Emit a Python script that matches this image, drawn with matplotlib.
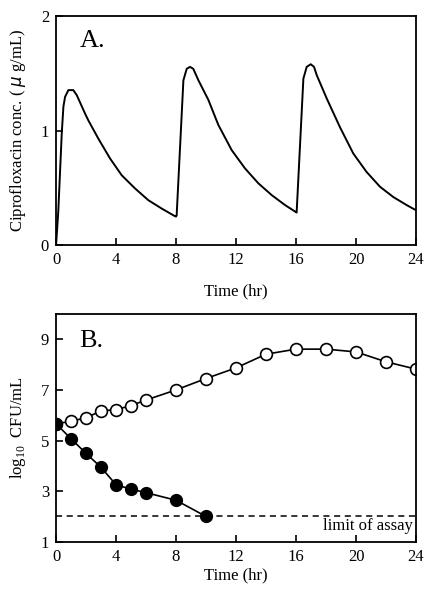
import matplotlib
matplotlib.use("Agg")
import matplotlib.pyplot as plt

plt.rcParams['font.family'] = ['Liberation Serif', 'DejaVu Serif']
plt.rcParams['mathtext.fontset'] = 'custom'
plt.rcParams['mathtext.rm'] = 'Liberation Serif'
plt.rcParams['font.size'] = 12

# panel A: ciprofloxacin concentration
conc_t = [0.0, 0.15, 0.27, 0.38, 0.49, 0.6, 0.82, 1.15, 1.38, 1.93, 2.15, 2.82, 3.6,
          4.38, 5.27, 6.15, 7.04, 7.93, 8.0,
          8.04, 8.49, 8.71, 8.93, 9.15, 9.49, 10.15, 10.82, 11.71, 12.6, 13.49, 14.38,
          15.27, 15.98,
          16.04, 16.49, 16.71, 16.98, 17.2, 17.38, 18.05, 18.93, 19.82, 20.7, 21.6,
          22.49, 23.38, 24.0]
conc = [0.0, 0.3, 0.655, 0.98, 1.21, 1.295, 1.354, 1.354, 1.31, 1.15, 1.09, 0.93, 0.757,
        0.61, 0.495, 0.393, 0.32, 0.253, 0.25,
        0.26, 1.44, 1.54, 1.557, 1.54, 1.44, 1.27, 1.05, 0.83, 0.67, 0.54, 0.437,
        0.35, 0.29,
        0.285, 1.455, 1.557, 1.58, 1.557, 1.485, 1.28, 1.03, 0.80, 0.64, 0.51,
        0.42, 0.35, 0.305]

# panel B: bacterial counts
ctrl_t = [0, 1, 2, 3, 4, 5, 6, 8, 10, 12, 14, 16, 18, 20, 22, 24]
ctrl = [5.66, 5.76, 5.90, 6.17, 6.22, 6.38, 6.60, 7.0, 7.45, 7.87, 8.41, 8.61, 8.61, 8.50, 8.11, 7.82]
cipro_t = [0, 1, 2, 3, 4, 5, 6, 8, 10]
cipro = [5.66, 5.07, 4.49, 3.94, 3.25, 3.08, 2.94, 2.64, 2.0]
assay_limit = 2.0

xticks = [0, 4, 8, 12, 16, 20, 24]

fig = plt.figure(figsize=(4.28, 5.98), dpi=100)
ax1 = fig.add_axes([0.131, 0.590, 0.841, 0.383])
ax2 = fig.add_axes([0.131, 0.094, 0.841, 0.381])

ax1.plot(conc_t, conc, color='black', lw=1.4)
ax1.set_xlim(0, 24)
ax1.set_ylim(0, 2)
ax1.set_yticks([0, 1, 2])
ax1.set_xticks(xticks)
ax1.set_ylabel('Ciprofloxacin conc. ( $\\mu$ g/mL)', labelpad=9)
ax1.set_xlabel('Time (hr)', labelpad=11)
ax1.text(0.065, 0.865, 'A.', transform=ax1.transAxes, fontsize=19)

ax2.plot(ctrl_t, ctrl, color='black', lw=1.2, marker='o', ms=8.5,
         mfc='white', mec='black', mew=1.2, zorder=3)
ax2.plot(cipro_t, cipro, color='black', lw=1.2, marker='o', ms=8.5,
         mfc='black', mec='black', zorder=4)
ax2.axhline(assay_limit, color='black', lw=1.1, ls=(0, (4, 3)), zorder=2)
ax2.text(23.8, 1.3, 'limit of assay', ha='right', va='bottom', fontsize=12)
ax2.set_xlim(0, 24)
ax2.set_ylim(1, 10)
ax2.set_yticks([1, 3, 5, 7, 9])
ax2.set_xticks(xticks)
ax2.set_ylabel('log$_{\\rm 10}$  CFU/mL', labelpad=9)
ax2.set_xlabel('Time (hr)', labelpad=2)
ax2.text(0.065, 0.855, 'B.', transform=ax2.transAxes, fontsize=19)

for ax in (ax1, ax2):
    for s in ax.spines.values():
        s.set_linewidth(1.3)
        s.set_zorder(5)
    ax.tick_params(direction='in', length=5, width=1.2, labelsize=12, pad=5)
    for lab in ax.get_xticklabels() + ax.get_yticklabels():
        lab.set_clip_on(False)

fig.savefig('out.png', dpi=100)
